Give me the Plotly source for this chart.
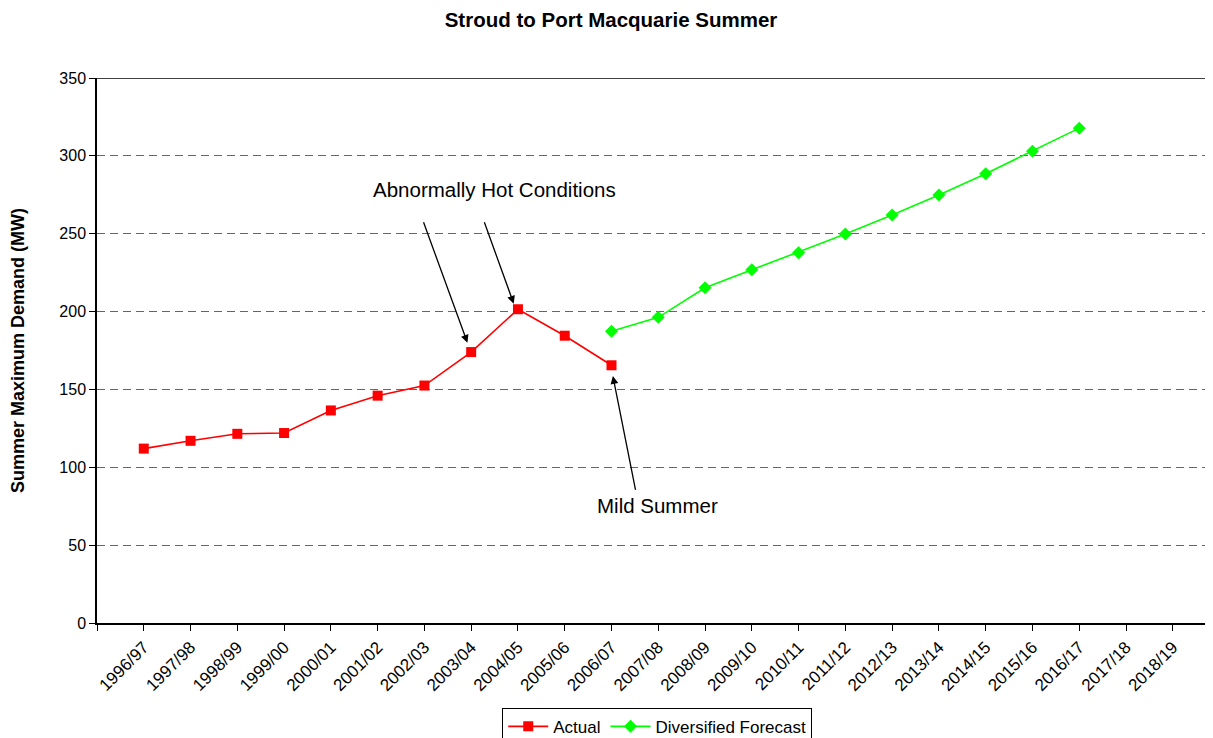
import plotly.graph_objects as go

categories = ["1996/97", "1997/98", "1998/99", "1999/00", "2000/01", "2001/02",
              "2002/03", "2003/04", "2004/05", "2005/06", "2006/07", "2007/08",
              "2008/09", "2009/10", "2010/11", "2011/12", "2012/13", "2013/14",
              "2014/15", "2015/16", "2016/17", "2017/18", "2018/19"]

actual = [112, 117, 121.5, 122, 136.5, 146, 152.5, 174, 201.5, 184.5, 165.5]
forecast_start = "2006/07"
forecast = [187.3, 196.3, 215.3, 226.8, 237.8, 249.8, 262, 274.8, 288.5, 303, 317.8]

y_ticks = [0, 50, 100, 150, 200, 250, 300, 350]

idx = {c: i for i, c in enumerate(categories)}
x_actual = [idx[c] for c in categories[:len(actual)]]
f0 = idx[forecast_start]
x_forecast = [idx[c] for c in categories[f0:f0 + len(forecast)]]

FONT = "Arial, Liberation Sans, sans-serif"

fig = go.Figure()
fig.add_trace(go.Scatter(
    x=x_actual, y=actual, name="Actual", mode="lines+markers",
    line=dict(color="#FF0000", width=1.6),
    marker=dict(symbol="square", size=10, color="#FF0000"),
))
fig.add_trace(go.Scatter(
    x=x_forecast, y=forecast, name="Diversified Forecast", mode="lines+markers",
    line=dict(color="#00FF00", width=1.6),
    marker=dict(symbol="diamond", size=10, color="#00FF00"),
))

# top border line at max of y axis
fig.add_shape(type="line", xref="paper", yref="y", x0=0, x1=1,
              y0=y_ticks[-1], y1=y_ticks[-1], line=dict(color="black", width=1.5))

arrow_style = dict(showarrow=True, arrowhead=2, arrowsize=1.2, arrowwidth=1.3,
                   arrowcolor="black", axref="x", ayref="y", text="")
# Abnormally hot: arrows to 2003/04 and 2004/05; mild summer arrow to 2006/07
fig.add_annotation(x=6.92, y=180.0, ax=5.97, ay=258.3, **arrow_style)
fig.add_annotation(x=7.91, y=205.1, ax=7.27, ay=258.3, **arrow_style)
fig.add_annotation(x=10.03, y=158.6, ax=10.52, ay=84.6, **arrow_style)
fig.add_annotation(x=7.5, y=278.6, text="Abnormally Hot Conditions", showarrow=False,
                   font=dict(family=FONT, size=20.5, color="black"))
fig.add_annotation(x=10.99, y=75.3, text="Mild Summer", showarrow=False,
                   font=dict(family=FONT, size=20.5, color="black"))

fig.update_layout(
    width=1205, height=730,
    paper_bgcolor="white", plot_bgcolor="white",
    margin=dict(l=89, r=0, t=70, b=115, autoexpand=False),
    font=dict(family=FONT, size=16, color="black"),
    title=dict(text="<b>Stroud to Port Macquarie Summer</b>", x=0.5004, xanchor="center",
               y=1 - 12 / 730, yanchor="middle", font=dict(size=20.5, family=FONT)),
    showlegend=True,
    legend=dict(orientation="h", x=0.502, xanchor="center", y=-0.1556, yanchor="top",
                bordercolor="black", borderwidth=1, bgcolor="white",
                font=dict(size=17), itemwidth=40, tracegroupgap=0),
)
fig.update_xaxes(
    range=[-1, 22.86], tickmode="array",
    tickvals=[-1] + list(range(len(categories))), ticktext=[""] + categories,
    tickangle=-45, ticks="outside", ticklen=6, tickcolor="black", tickwidth=1,
    showline=True, linecolor="black", linewidth=1.5, showgrid=False, zeroline=False,
    tickfont=dict(size=17), automargin=False,
)
fig.update_yaxes(
    range=[0, 350], tickmode="array", tickvals=y_ticks,
    ticks="outside", ticklen=6, tickcolor="black", tickwidth=1,
    showline=True, linecolor="black", linewidth=1.5, zeroline=False,
    showgrid=True, gridcolor="#666666", gridwidth=1, griddash="8px,5px",
    tickfont=dict(size=16), automargin=False,
    title=dict(text="<b>Summer Maximum Demand (MW)</b>", font=dict(size=18), standoff=31),
)

fig.write_html("out.html")
